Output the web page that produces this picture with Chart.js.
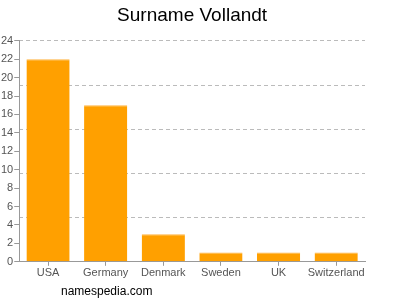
<!DOCTYPE html>
<html>
<head>
<meta charset="utf-8">
<script src="https://cdn.jsdelivr.net/npm/chart.js@4/dist/chart.umd.min.js"></script>
<style>
    html, body { margin: 0; padding: 0; background: #fff; }
    #wrap { width: 400px; height: 300px; }
</style>
</head>
<body>
<div id="wrap"><canvas id="chart"></canvas></div>
<script>
    'use strict';

    var countries = ['USA', 'Germany', 'Denmark', 'Sweden', 'UK', 'Switzerland'];
    var counts = [22, 17, 3, 1, 1, 1];
    var yMax = 24;
    var yStep = 2;
    var gridStep = 4.8;

    var footerText = {
        id: 'footerText',
        afterDraw: function (chart) {
            var ctx = chart.ctx;
            ctx.save();
            ctx.font = '12px "Liberation Sans", Arial, sans-serif';
            ctx.fillStyle = '#000';
            ctx.textBaseline = 'middle';
            ctx.fillText('namespedia.com', 61, 292);
            ctx.restore();
        }
    };

    var context = document.getElementById('chart');
    var chart = new Chart(context, {
        type: 'bar',
        data: {
            labels: countries,
            datasets: [{
                data: counts,
                backgroundColor: '#ffa000',
                borderColor: '#ffb340',
                borderWidth: { top: 1, left: 0, right: 0, bottom: 0 },
                barPercentage: 0.75,
                categoryPercentage: 1
            }]
        },
        options: {
            responsive: true,
            maintainAspectRatio: false,
            animation: false,
            layout: { padding: { left: 0, right: 35, top: 4, bottom: 19 } },
            plugins: {
                legend: { display: false },
                tooltip: { enabled: false },
                title: {
                    display: true,
                    fullSize: false,
                    text: 'Surname Vollandt',
                    color: '#000',
                    font: { family: '"Liberation Sans", Arial, sans-serif', size: 19, weight: 'normal' },
                    padding: { top: 0, bottom: 14 }
                }
            },
            scales: {
                x: {
                    grid: { display: true, drawOnChartArea: false, offset: false, tickLength: 4, color: '#999' },
                    border: { color: '#999' },
                    ticks: {
                        color: '#555',
                        font: { family: '"Liberation Sans", Arial, sans-serif', size: 11 },
                        padding: 1,
                        maxRotation: 0,
                        minRotation: 0,
                        autoSkip: false
                    }
                },
                y: {
                    min: 0,
                    max: yMax,
                    ticks: { stepSize: yStep, color: '#555', font: { family: '"Liberation Sans", Arial, sans-serif', size: 11 }, padding: 1 },
                    grid: { drawOnChartArea: false, tickLength: 5, color: '#999' },
                    border: { color: '#999' }
                },
                yGrid: {
                    position: 'left',
                    min: 0,
                    max: yMax,
                    ticks: { display: false, stepSize: gridStep },
                    grid: { drawTicks: false, color: '#bbb', tickLength: 0 },
                    border: { display: false, dash: [4, 3] }
                }
            }
        },
        plugins: [footerText]
    });
</script>
</body>
</html>
